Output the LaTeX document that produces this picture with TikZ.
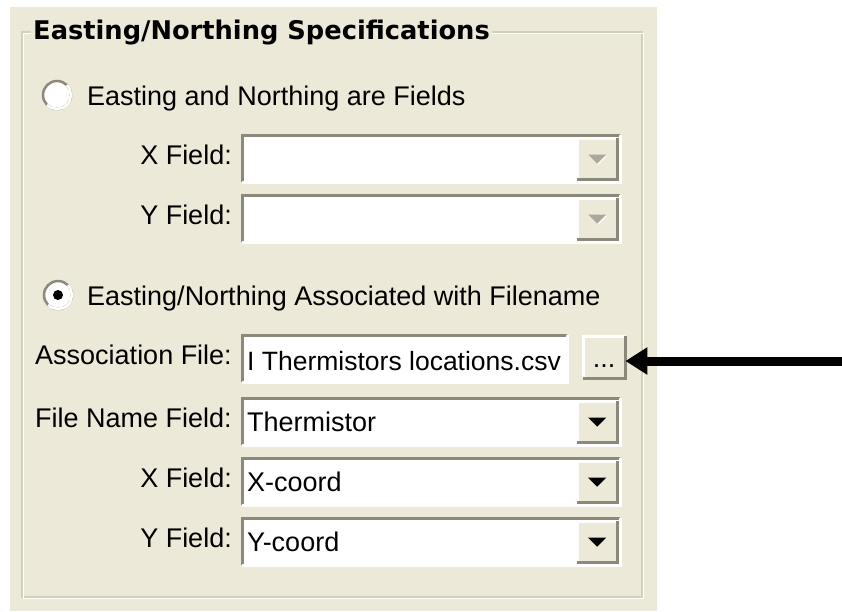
\documentclass[tikz,border=0pt]{standalone}
\usepackage{fontspec}
\setmainfont{Liberation Sans}
\newfontfamily\titlefont{DejaVu Sans}
\usepackage{tikz}
\usetikzlibrary{arrows.meta}
\definecolor{dlgbg}{RGB}{236,233,216}
\definecolor{framegray}{RGB}{208,208,191}
\definecolor{bevdark}{RGB}{113,111,100}
\definecolor{bevmid}{RGB}{172,168,153}
\newcommand{\dlgfont}{\fontsize{27pt}{32pt}\selectfont}
\newcommand{\headfont}{\titlefont\bfseries\fontsize{25.7pt}{30pt}\selectfont}
\tikzstyle{shade} = [line width=3pt, color=bevdark!55!bevmid]
\tikzstyle{shine} = [line width=3pt, color=white]
\tikzstyle{fieldlabel} = [anchor=base east, inner sep=0pt, font=\dlgfont]
\tikzstyle{optlabel} = [anchor=base west, inner sep=0pt, font=\dlgfont]
\tikzstyle{entry} = [rectangle, anchor=north west, minimum width=325pt,
                     minimum height=47pt, inner sep=0pt, fill=white]
\tikzstyle{combo} = [entry, minimum width=378pt]
\tikzstyle{dropbase} = [rectangle, anchor=north east, minimum width=40pt,
                        minimum height=41pt, inner sep=0pt, fill=dlgbg]
\tikzstyle{dropbtn} = [dropbase, path picture={\fill[black]
    ([shift={(-9pt,4pt)}]path picture bounding box.center) -- ++(18pt,0pt) -- ++(-9pt,-9pt) -- cycle;}]
\tikzstyle{dropoff} = [dropbase, path picture={\fill[white]
    ([shift={(-8pt,3pt)}]path picture bounding box.center) -- ++(18pt,0pt) -- ++(-9pt,-9pt) -- cycle;
    \fill[bevmid]
    ([shift={(-9pt,4pt)}]path picture bounding box.center) -- ++(18pt,0pt) -- ++(-9pt,-9pt) -- cycle;}]
\tikzstyle{browsebtn} = [rectangle, anchor=north west, minimum width=42pt, minimum height=42pt,
                         inner sep=0pt, fill=dlgbg, font=\dlgfont, text height=20pt, text depth=0pt]
\tikzstyle{radio} = [circle, minimum size=28pt, inner sep=0pt, fill=white,
                     draw=bevdark!55!bevmid, line width=2.5pt]
\tikzstyle{pointer} = [line width=9pt, -{Triangle[length=22pt,width=26pt]}]

\begin{document}
\begin{tikzpicture}[x=1pt, y=-1pt]
    \useasboundingbox (0,0) rectangle (842,611);
    % dialog background and group frame
    \fill[dlgbg] (10,7) rectangle (657,611);
    \draw[framegray, line width=1.5pt] (22,32) rectangle (642,597);
    \draw[white, line width=1.5pt] (23.5,33.5) rectangle (643.5,598.5);
    \node[anchor=base west, fill=dlgbg, inner xsep=2pt, inner ysep=0pt, font=\headfont] (title) at (31,39) {Easting/Northing Specifications};

    % first option
    \node[radio] (optfields) at (57,95) {};
    \draw[shine, line width=2.5pt] ([shift={(-9.9,9.9)}]optfields.center) arc[start angle=135, end angle=-45, radius=14];
    \node[optlabel] (optfieldstext) at (87,105) {Easting and Northing are Fields};

    \node[fieldlabel] (xalabel) at (232,164) {X Field:};
    \node[combo] (xa) at (242,135) {};
    \node[fieldlabel] (yalabel) at (232,224) {Y Field:};
    \node[combo] (ya) at (242,195) {};

    % second option
    \node[radio] (optfile) at (58,295) {};
    \draw[shine, line width=2.5pt] ([shift={(-9.9,9.9)}]optfile.center) arc[start angle=135, end angle=-45, radius=14];
    \fill[black] (optfile.center) circle (5pt);
    \node[optlabel] (optfiletext) at (87,305) {Easting/Northing Associated with Filename};

    \node[fieldlabel] (assoclabel) at (232,364) {Association File:};
    \node[entry] (assoc) at (242,335) {};
    \node[optlabel, font=\fontsize{26.5pt}{32pt}\selectfont] (assoctext) at (247,370) {I Thermistors locations.csv};
    \node[browsebtn] (browse) at (583,336) {...};

    \node[fieldlabel] (fnamelabel) at (232,427) {File Name Field:};
    \node[combo] (fname) at (242,398) {};
    \node[optlabel] (fnametext) at (247,431) {Thermistor};
    \node[fieldlabel] (xblabel) at (232,487) {X Field:};
    \node[combo] (xb) at (242,458) {};
    \node[optlabel] (xbtext) at (247,491) {X-coord};
    \node[fieldlabel] (yblabel) at (232,547) {Y Field:};
    \node[combo] (yb) at (242,518) {};
    \node[optlabel] (ybtext) at (247,551) {Y-coord};

    % drop-down buttons
    \node[dropoff] (xadrop) at ([shift={(-3,3)}]xa.north east) {};
    \node[dropoff] (yadrop) at ([shift={(-3,3)}]ya.north east) {};
    \node[dropbtn] (fnamedrop) at ([shift={(-3,3)}]fname.north east) {};
    \node[dropbtn] (xbdrop) at ([shift={(-3,3)}]xb.north east) {};
    \node[dropbtn] (ybdrop) at ([shift={(-3,3)}]yb.north east) {};

    % 3D edges
    \foreach \w in {xa,ya,assoc,fname,xb,yb} {
        \draw[shade] (\w.south west) |- (\w.north east);
        \draw[shine] (\w.south west) -| (\w.north east);
    }
    \foreach \w in {xadrop,yadrop,fnamedrop,xbdrop,ybdrop,browse} {
        \draw[shine] (\w.south west) |- (\w.north east);
        \draw[shade] (\w.south west) -| (\w.north east);
    }

    % pointer
    \coordinate (tail) at (842,361);
    \draw[pointer] (tail) -- (tail -| browse.east);
\end{tikzpicture}
\end{document}
